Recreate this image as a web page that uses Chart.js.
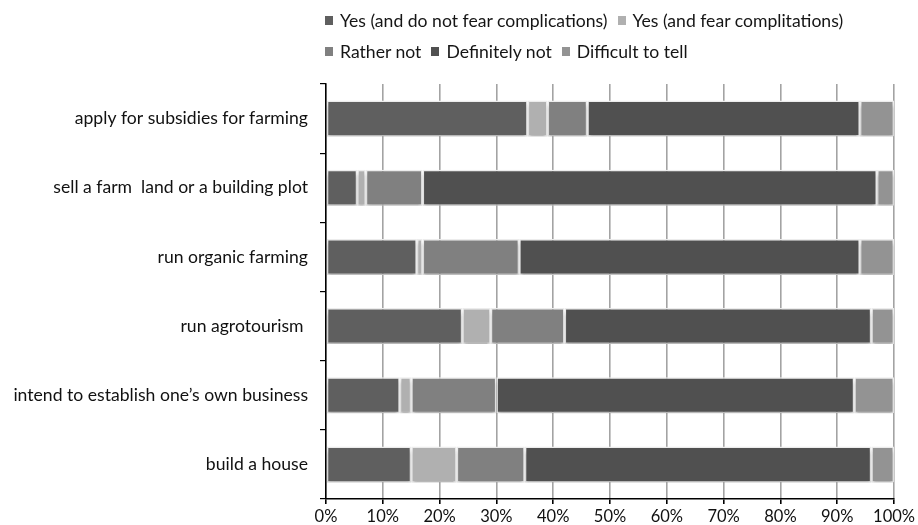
<!DOCTYPE html>
<html>
<head>
<meta charset="utf-8">
<script src="https://cdn.jsdelivr.net/npm/chart.js@4/dist/chart.umd.min.js"></script>
<style>
  html, body { margin: 0; padding: 0; background: #fff; }
  #wrap { position: relative; width: 918px; height: 525px; }
  #legend { position: absolute; left: 325px; top: 0; width: 593px;
            font-family: Lato, "Open Sans", sans-serif; font-size: 17.6px; color: #151515; }
  #legend .row { position: absolute; left: 0; white-space: nowrap; height: 20px; line-height: 20px; }
  #legend .item { display: inline-flex; align-items: center; margin-right: 10px; }
  #legend .box { width: 8px; height: 9px; margin-right: 7px; display: inline-block; }
</style>
</head>
<body>
<div id="wrap">
  <canvas id="c" width="918" height="525"></canvas>
  <div id="legend"></div>
</div>
<script>
const categories = [
  "apply for subsidies for farming",
  "sell a farm  land or a building plot",
  "run organic farming",
  "run agrotourism ",
  "intend to establish one\u2019s own business",
  "build a house"
];
const seriesNames = [
  "Yes (and do not fear complications)",
  "Yes (and fear complitations)",
  "Rather not",
  "Definitely not",
  "Difficult to tell"
];
const yesNoFear     = [35.5, 5.5, 16, 24, 13, 15];
const yesFear       = [3.5, 1.5, 1, 5, 2, 8];
const ratherNot     = [7, 10, 17, 13, 15, 12];
const definitelyNot = [48, 80, 60, 54, 63, 61];
const difficult     = [6, 3, 6, 4, 7, 4];
const xTickLabels = ["0%","10%","20%","30%","40%","50%","60%","70%","80%","90%","100%"];

const colors = ["#5f5f5f", "#b0b0b0", "#808080", "#505050", "#939393"];
const seriesValues = [yesNoFear, yesFear, ratherNot, definitelyNot, difficult];
const legendRows = [[0, 1], [2, 3, 4]];

const FONT = "Lato, 'Open Sans', sans-serif";

const datasets = seriesNames.map((name, i) => ({
  label: name,
  data: seriesValues[i],
  backgroundColor: colors[i],
  borderColor: "#ececec",
  borderWidth: 1.5,
  borderSkipped: false,
  barPercentage: 0.52,
  categoryPercentage: 1.0
}));

const shadowPlugin = {
  id: "barShadow",
  beforeDatasetsDraw(chart) {
    const ctx = chart.ctx;
    ctx.save();
    ctx.shadowColor = "rgba(0,0,0,0.22)";
    ctx.shadowOffsetY = 4;
    ctx.shadowOffsetX = 0;
    ctx.shadowBlur = 3;
  },
  afterDatasetsDraw(chart) {
    chart.ctx.restore();
  }
};

new Chart(document.getElementById("c"), {
  type: "bar",
  data: { labels: categories, datasets },
  plugins: [shadowPlugin],
  options: {
    indexAxis: "y",
    responsive: false,
    animation: false,
    layout: { padding: { top: 84, right: 21, bottom: 0, left: 0 } },
    plugins: {
      legend: { display: false },
      tooltip: { enabled: false }
    },
    scales: {
      x: {
        stacked: true,
        min: 0, max: 100,
        afterBuildTicks(scale) {
          scale.ticks = xTickLabels.map((t, i) => ({ value: i * 10 }));
        },
        afterFit(scale) { scale.height = 26; },
        ticks: {
          autoSkip: false,
          maxRotation: 0,
          padding: 3,
          color: "#111",
          font: { family: FONT, size: 16.5 },
          callback: (v, i) => xTickLabels[i]
        },
        grid: {
          color: "#a3a3a3",
          lineWidth: 1.6,
          tickColor: "#000",
          tickLength: 5,
          drawTicks: true
        },
        border: { color: "#000", width: 1.5 }
      },
      y: {
        stacked: true,
        afterFit(scale) { scale.width = 326; },
        ticks: {
          padding: 12,
          color: "#111",
          font: { family: FONT, size: 17.6 }
        },
        grid: {
          offset: true,
          drawOnChartArea: false,
          color: "#000",
          tickLength: 6,
          lineWidth: 1.2
        },
        border: { color: "#000", width: 1.5 }
      }
    }
  }
});

const legend = document.getElementById("legend");
const rowTops = [9, 40];
legendRows.forEach((row, r) => {
  const rowEl = document.createElement("div");
  rowEl.className = "row";
  rowEl.style.top = rowTops[r] + "px";
  row.forEach(i => {
    const item = document.createElement("span");
    item.className = "item";
    const box = document.createElement("span");
    box.className = "box";
    box.style.background = colors[i];
    item.appendChild(box);
    item.appendChild(document.createTextNode(seriesNames[i]));
    rowEl.appendChild(item);
  });
  legend.appendChild(rowEl);
});
</script>
</body>
</html>
